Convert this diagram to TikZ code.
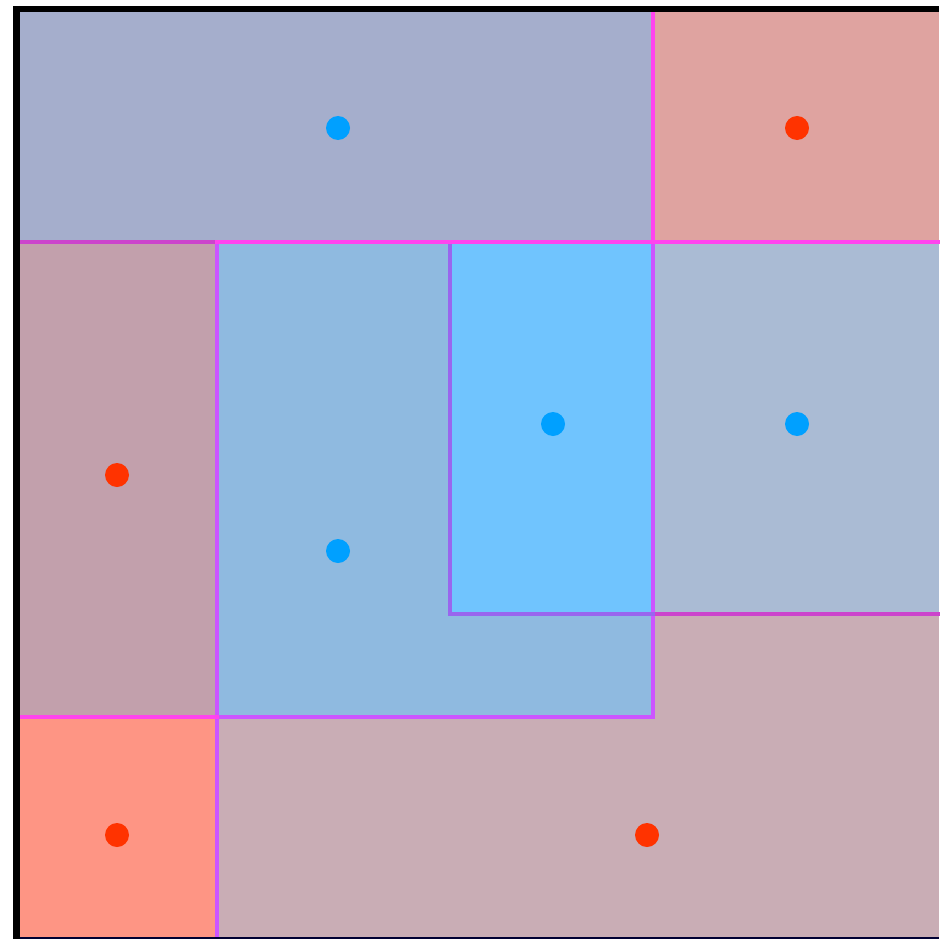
\documentclass[tikz,border=0pt]{standalone}
\usepackage{tikz}

\definecolor{topband}{HTML}{A5AECC}
\definecolor{topright}{HTML}{DFA3A0}
\definecolor{leftmid}{HTML}{C2A0AC}
\definecolor{bluebox}{HTML}{8FBAE0}
\definecolor{brightbox}{HTML}{70C4FE}
\definecolor{rightmid}{HTML}{AABBD4}
\definecolor{botleft}{HTML}{FE9584}
\definecolor{botright}{HTML}{C9ADB5}
\definecolor{bluedot}{HTML}{00A0FF}
\definecolor{reddot}{HTML}{FF3300}
\definecolor{edgemag}{HTML}{FF44EE}
\definecolor{edgepur}{HTML}{9966EE}
\definecolor{edgevio}{HTML}{CC55FF}
\definecolor{edgedark}{HTML}{CC44CC}

\begin{document}
\begin{tikzpicture}[
    x=1pt, y=-1pt,
    cell/.style = {draw=none},
    border/.style = {line width=4pt, line cap=rect},
    frameline/.style = {black, line width=7pt},
    bdot/.style = {circle, fill=bluedot, inner sep=0pt, minimum size=24pt},
    rdot/.style = {circle, fill=reddot, inner sep=0pt, minimum size=24pt}]

\useasboundingbox[fill=white] (0,0) rectangle (939,939);

% corner points of the partition
\coordinate (tl) at (20,12);
\coordinate (br) at (939,939);

% regions
\fill[cell, topband]   (20,12)   rectangle (653,242);
\fill[cell, topright]  (653,12)  rectangle (939,242);
\fill[cell, leftmid]   (20,242)  rectangle (217,717);
\fill[cell, botright]  (217,614) rectangle (939,939);
\fill[cell, bluebox]   (217,242) rectangle (653,717);
\fill[cell, brightbox] (450,242) rectangle (653,614);
\fill[cell, rightmid]  (653,242) rectangle (939,614);
\fill[cell, botleft]   (20,717)  rectangle (217,939);

% borders
\draw[border, edgedark] (20,242) -- (217,242);
\draw[border, edgedark] (653,614) -- (939,614);
\draw[border, edgevio]  (217,242) -- (217,939);
\draw[border, edgevio]  (653,242) -- (653,717) -- (217,717);
\draw[border, edgemag]  (653,12) -- (653,242);
\draw[border, edgemag]  (20,717) -- (217,717);
\draw[border, edgepur]  (450,242) -- (450,614) -- (653,614);
\draw[border, edgemag]  (217,242) -- (939,242);

% frame
\draw[frameline] (16.5,6) -- (16.5,939);
\draw[black, line width=6pt] (13,9) -- (939,9);
\draw[black!80!blue, line width=2pt] (20,938) -- (939,938);

% centres
\node[bdot] (top)    at (338,128) {};
\node[rdot] (corner) at (797,128) {};
\node[rdot] (left)   at (117,475) {};
\node[bdot] (mid)    at (338,551) {};
\node[bdot] (inner)  at (553,424) {};
\node[bdot] (right)  at (797,424) {};
\node[rdot] (low)    at (117,835) {};
\node[rdot] (bottom) at (647,835) {};
\end{tikzpicture}
\end{document}
